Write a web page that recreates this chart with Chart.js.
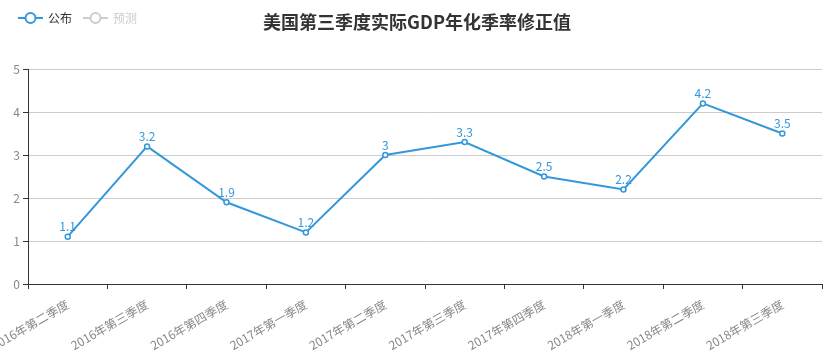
<!DOCTYPE html>
<html><head><meta charset="utf-8">
<script src="https://cdn.jsdelivr.net/npm/chart.js@4/dist/chart.umd.min.js"></script>
<style>html,body{margin:0;padding:0;background:#fff}#wrap{width:831px;height:352px;position:relative}canvas{display:block}</style>
</head><body><div id="wrap"><canvas id="c" width="831" height="352"></canvas></div>
<script>
const categories = ["2016年第二季度","2016年第三季度","2016年第四季度","2017年第一季度","2017年第二季度","2017年第三季度","2017年第四季度","2018年第一季度","2018年第二季度","2018年第三季度"];
const publishedValues = [1.1, 3.2, 1.9, 1.2, 3, 3.3, 2.5, 2.2, 4.2, 3.5];
const forecastValues = [];
const yTicks = [0, 1, 2, 3, 4, 5];
const titleText = "美国第三季度实际GDP年化季率修正值";
const seriesNames = ["公布", "预测"];

const FONT = '"Noto Sans CJK SC", "Noto Sans", sans-serif';
const BLUE = '#3398DB';

const overlay = {
  id: 'overlay',
  afterDatasetsDraw(chart) {
    const ctx = chart.ctx;
    const meta = chart.getDatasetMeta(0);
    ctx.save();
    ctx.font = '12px ' + FONT;
    ctx.fillStyle = BLUE;
    ctx.textAlign = 'center';
    ctx.textBaseline = 'bottom';
    meta.data.forEach((pt, i) => {
      ctx.fillText(String(publishedValues[i]), pt.x, pt.y - 4);
    });
    ctx.restore();
  },
  afterDraw(chart) {
    const ctx = chart.ctx;
    ctx.save();
    ctx.font = 'bold 18px ' + FONT;
    ctx.fillStyle = '#333';
    ctx.textAlign = 'center';
    ctx.textBaseline = 'middle';
    ctx.fillText(titleText, 417, 22);
    const items = [
      {x: 18, color: BLUE, text: seriesNames[0], tc: '#333'},
      {x: 83, color: '#ccc', text: seriesNames[1], tc: '#ccc'}
    ];
    const ly = 18;
    items.forEach(it => {
      ctx.strokeStyle = it.color;
      ctx.lineWidth = 2;
      ctx.beginPath();
      ctx.moveTo(it.x, ly); ctx.lineTo(it.x + 25, ly); ctx.stroke();
      ctx.beginPath();
      ctx.arc(it.x + 12.5, ly, 5, 0, Math.PI * 2);
      ctx.fillStyle = '#fff'; ctx.fill(); ctx.stroke();
      ctx.font = '12px ' + FONT;
      ctx.fillStyle = it.tc;
      ctx.textAlign = 'left';
      ctx.textBaseline = 'middle';
      ctx.fillText(it.text, it.x + 30, ly);
    });
    ctx.restore();
  }
};

new Chart(document.getElementById('c'), {
  type: 'line',
  data: {
    labels: categories,
    datasets: [
      {label: seriesNames[0], data: publishedValues, borderColor: BLUE, backgroundColor: '#fff',
       borderWidth: 2, pointRadius: 2.5, pointBorderWidth: 1.5, pointBackgroundColor: '#fff',
       pointBorderColor: BLUE, tension: 0, fill: false},
      {label: seriesNames[1], data: forecastValues, hidden: true, borderColor: '#ccc'}
    ]
  },
  options: {
    responsive: false,
    animation: false,
    devicePixelRatio: 1,
    layout: {padding: {top: 69, right: 9, left: 0, bottom: 0}},
    plugins: {legend: {display: false}, title: {display: false}, tooltip: {enabled: false}},
    scales: {
      x: {
        offset: true,
        grid: {offset: true, drawOnChartArea: false, drawTicks: true, tickLength: 5, tickColor: '#333', tickWidth: 1},
        border: {color: '#333', width: 1},
        ticks: {color: '#888', font: {family: FONT, size: 12}, minRotation: 30, maxRotation: 30, autoSkip: false, padding: 8},
        afterFit(scale) { scale.paddingLeft = 0; scale.paddingRight = 0; scale.height = 68; }
      },
      y: {
        min: 0, max: 5,
        afterBuildTicks(scale) { scale.ticks = yTicks.map(v => ({value: v})); },
        grid: {color: '#ccc', drawTicks: true, tickLength: 5, tickColor: '#333'},
        border: {color: '#333', width: 1},
        ticks: {color: '#888', font: {family: FONT, size: 12}, padding: 3},
        afterFit(scale) { scale.width = 28; scale.paddingTop = 0; scale.paddingBottom = 0; }
      }
    }
  },
  plugins: [overlay]
});
</script>
</body></html>
